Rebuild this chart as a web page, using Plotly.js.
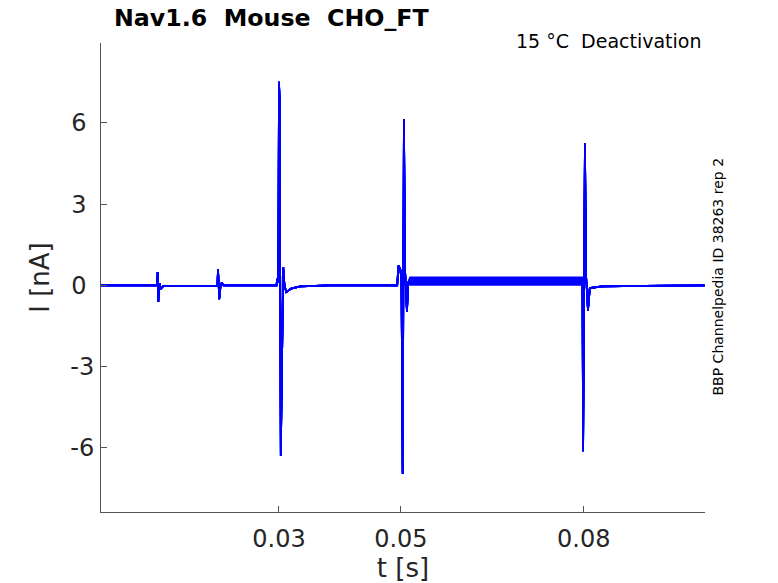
<!DOCTYPE html>
<html>
<head>
<meta charset="utf-8">
<script src="https://cdn.plot.ly/plotly-3.0.1.min.js"></script>
<style>
  html, body { margin: 0; padding: 0; background: #fff; }
  #chart { width: 778px; height: 583px; }
</style>
</head>
<body>
<div id="chart"></div>
<script>

// shared part of every sweep, up to the start of the conditioning step
var tPre = [0.0008, 0.0100, 0.0101, 0.0102, 0.0104, 0.0106, 0.0110, 0.0190,
            0.0199, 0.0200, 0.0202, 0.0204, 0.0206, 0.0209, 0.0290,
            0.0296, 0.0297, 0.0299, 0.0300, 0.0301, 0.0303, 0.0304, 0.0305,
            0.0307, 0.0309, 0.0312, 0.0320, 0.0335, 0.0384, 0.0494,
            0.0496, 0.0499, 0.0501, 0.0503, 0.0505, 0.0507, 0.0510, 0.0512];
var iPre = [0.00, 0.00, 0.49, -0.61, 0.08, -0.13, -0.03, -0.02,
            -0.01, 0.60, -0.51, -0.05, 0.10, 0.00, 0.00,
            0.00, 0.24, 0.10, 7.52, 6.90, -6.29, -4.48, -1.50,
            0.67, 0.00, -0.25, -0.12, -0.04, 0.00, 0.00,
            0.73, 0.60, 0.20, -6.96, 6.14, 0.50, -0.98, 0.10];

// conditioning step: each sweep settles at its own level
var tStep = [0.0515, 0.0798];
var stepLevels = [0.30, 0.26, 0.22, 0.18, 0.14, 0.10, 0.06, 0.02];

// tail after the step, shared again
var tPost = [0.0799, 0.0802, 0.0804, 0.0807, 0.0810, 0.0830, 0.0900, 0.0999];
var iPost = [-6.13, 5.25, 0.30, -0.93, -0.10, -0.04, -0.02, 0.00];

var xTicks = [0.03, 0.05, 0.08];
var xTickText = ['0.03', '0.05', '0.08'];
var yTicks = [-6, -3, 0, 3, 6];
// labels in the picture are left aligned, so pad the unsigned ones
var yTickText = ['-6', '-3', '0\u00a0', '3\u00a0', '6\u00a0'];

var traces = [];
for ( var k = 0; k < stepLevels.length; ++k ) {
    var lvl = stepLevels[ k ];
    traces.push({
        x: tPre.concat( tStep, tPost ),
        y: iPre.concat( [ lvl, lvl ], iPost ),
        type: 'scatter',
        mode: 'lines',
        line: { color: '#0000ff', width: 1.7 },
        hoverinfo: 'skip',
        showlegend: false
    });
}

var axisFont = { family: 'DejaVu Sans', size: 24, color: '#262626' };
var labelFont = { family: 'DejaVu Sans', size: 26, color: '#262626' };

var layout = {
    width: 778,
    height: 583,
    margin: { l: 101, r: 73, t: 43, b: 71 },
    paper_bgcolor: '#ffffff',
    plot_bgcolor: '#ffffff',
    font: { family: 'DejaVu Sans', color: '#262626' },
    showlegend: false,
    xaxis: {
        range: [ 0.0008, 0.0999 ],
        tickvals: xTicks,
        ticktext: xTickText,
        tickfont: axisFont,
        ticks: 'inside',
        ticklen: 6,
        tickcolor: '#555555',
        showline: true,
        linecolor: '#555555',
        linewidth: 1,
        showgrid: false,
        zeroline: false,
        ticklabelstandoff: 5,
        title: { text: 't [s]', font: labelFont, standoff: 3 }
    },
    yaxis: {
        range: [ -8.37, 8.95 ],
        tickvals: yTicks,
        ticktext: yTickText,
        tickfont: axisFont,
        ticks: 'inside',
        ticklen: 6,
        tickcolor: '#555555',
        showline: true,
        linecolor: '#555555',
        linewidth: 1,
        showgrid: false,
        zeroline: false,
        ticklabelstandoff: 1,
        title: { text: 'I [nA]', font: labelFont, standoff: 13 }
    },
    annotations: [
        {
            text: '<b>Nav1.6  Mouse  CHO_FT</b>',
            xref: 'paper', yref: 'paper',
            x: 0.019, y: 1.0, yshift: 25,
            xanchor: 'left', yanchor: 'middle',
            showarrow: false,
            font: { family: 'DejaVu Sans', size: 23.7, color: '#000000' }
        },
        {
            text: '15 °C  Deactivation',
            xref: 'paper', yref: 'paper',
            x: 0.997, y: 1.0, yshift: 2,
            xanchor: 'right', yanchor: 'middle',
            showarrow: false,
            font: { family: 'DejaVu Sans', size: 19, color: '#000000' }
        },
        {
            text: 'BBP Channelpedia ID 38263 rep 2',
            xref: 'paper', yref: 'paper',
            x: 1.0, xshift: 12, y: 0.5, yshift: 1,
            xanchor: 'center', yanchor: 'middle',
            textangle: -90,
            showarrow: false,
            font: { family: 'DejaVu Sans', size: 14, color: '#000000' }
        }
    ]
};

Plotly.newPlot( 'chart', traces, layout, { displayModeBar: false, staticPlot: true } );
</script>
</body>
</html>
